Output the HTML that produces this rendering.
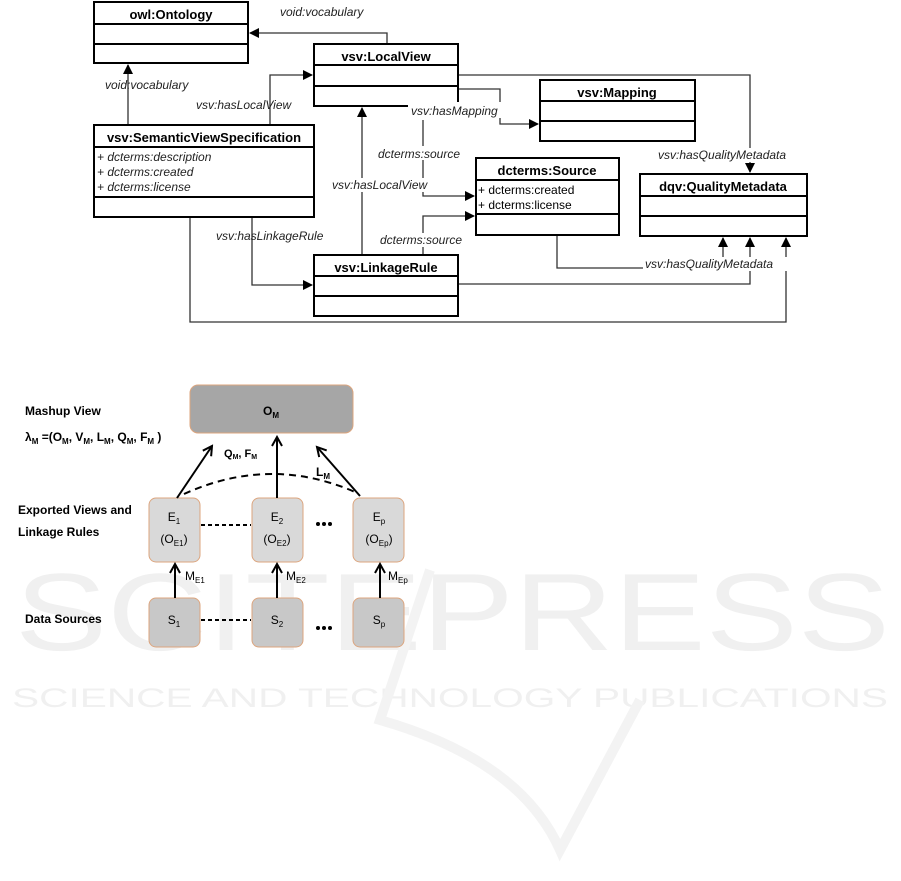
<!DOCTYPE html>
<html><head><meta charset="utf-8"><style>
html,body{margin:0;padding:0;background:#fff;}
svg{display:block;}
.b{font-family:"Liberation Sans",sans-serif;font-weight:bold;font-size:13px;}
.i{font-family:"Liberation Sans",sans-serif;font-style:italic;font-size:12px;fill:#222;}
.a{font-family:"Liberation Sans",sans-serif;font-size:12px;}
.c{font-family:"Liberation Sans",sans-serif;font-size:12px;}
</style></head><body>
<svg width="901" height="881" viewBox="0 0 901 881" xmlns="http://www.w3.org/2000/svg">
<defs>
<marker id="ar" markerWidth="10" markerHeight="10" refX="9" refY="5" orient="auto" markerUnits="userSpaceOnUse"><path d="M0,0 L10,5 L0,10 z" fill="#000"/></marker>
<marker id="ar2" markerWidth="12" markerHeight="12" refX="10" refY="6" orient="auto" markerUnits="userSpaceOnUse"><path d="M1,1 L10,6 L1,11" fill="none" stroke="#000" stroke-width="2"/></marker>
</defs>
<!-- watermark -->
<g fill="#f0f0f0" font-family="Liberation Sans,sans-serif">
<text x="15" y="650" font-size="110" textLength="875" lengthAdjust="spacingAndGlyphs">SCITEPRESS</text>
<text x="12" y="707" font-size="27" textLength="876" lengthAdjust="spacingAndGlyphs">SCIENCE AND TECHNOLOGY PUBLICATIONS</text>
</g>
<path d="M430,570 L380,720 Q520,760 560,850 L640,700" fill="none" stroke="#f3f3f3" stroke-width="10"/>

<!-- connectors top -->
<g stroke="#333" stroke-width="1.3" fill="none">
<path d="M387,44 V33 H250" marker-end="url(#ar)"/>
<path d="M128,125 V65" marker-end="url(#ar)"/>
<path d="M270,125 V75 H312" marker-end="url(#ar)"/>
<path d="M458,75 H750 V172" marker-end="url(#ar)"/>
<path d="M458,89 H500 V124 H538" marker-end="url(#ar)"/>
<path d="M423,120 V196 H474" marker-end="url(#ar)"/>
<path d="M423,255 V216 H474" marker-end="url(#ar)"/>
<path d="M362,255 V108" marker-end="url(#ar)"/>
<path d="M252,217 V285 H312" marker-end="url(#ar)"/>
<path d="M190,217 V322 H786 V238" marker-end="url(#ar)"/>
<path d="M557,235 V268 H723 V238" marker-end="url(#ar)"/>
<path d="M458,284 H750 V238" marker-end="url(#ar)"/>
</g>
<!-- boxes -->
<g fill="#fff" stroke="#000" stroke-width="2">
<rect x="94" y="2" width="154" height="61"/><line x1="94" y1="24" x2="248" y2="24"/><line x1="94" y1="44" x2="248" y2="44"/>
<rect x="314" y="44" width="144" height="62"/><line x1="314" y1="65" x2="458" y2="65"/><line x1="314" y1="86" x2="458" y2="86"/>
<rect x="94" y="125" width="220" height="92"/><line x1="94" y1="147" x2="314" y2="147"/><line x1="94" y1="197" x2="314" y2="197"/>
<rect x="314" y="255" width="144" height="61"/><line x1="314" y1="276" x2="458" y2="276"/><line x1="314" y1="296" x2="458" y2="296"/>
<rect x="540" y="80" width="155" height="61"/><line x1="540" y1="101" x2="695" y2="101"/><line x1="540" y1="121" x2="695" y2="121"/>
<rect x="476" y="158" width="143" height="77"/><line x1="476" y1="180" x2="619" y2="180"/><line x1="476" y1="214" x2="619" y2="214"/>
<rect x="640" y="174" width="167" height="62"/><line x1="640" y1="196" x2="807" y2="196"/><line x1="640" y1="216" x2="807" y2="216"/>
</g>
<g class="b" text-anchor="middle">
<text x="171" y="19">owl:Ontology</text>
<text x="386" y="61">vsv:LocalView</text>
<text x="204" y="142">vsv:SemanticViewSpecification</text>
<text x="386" y="272">vsv:LinkageRule</text>
<text x="617" y="97">vsv:Mapping</text>
<text x="547" y="175">dcterms:Source</text>
<text x="723" y="191">dqv:QualityMetadata</text>
</g>
<g class="i">
<text x="97" y="161">+ dcterms:description</text>
<text x="97" y="176">+ dcterms:created</text>
<text x="97" y="191">+ dcterms:license</text>
</g>
<g class="a">
<text x="478" y="194">+ dcterms:created</text>
<text x="478" y="209">+ dcterms:license</text>
</g>
<g class="i">
<rect x="408" y="102" width="98" height="16" fill="#fff"/>
<text x="280" y="16">void:vocabulary</text>
<text x="105" y="89">void:vocabulary</text>
<text x="196" y="109">vsv:hasLocalView</text>
<text x="411" y="115">vsv:hasMapping</text>
<rect x="377" y="146" width="90" height="14" fill="#fff"/>
<text x="378" y="158">dcterms:source</text>
<rect x="330" y="178" width="94" height="14" fill="#fff"/>
<text x="332" y="189">vsv:hasLocalView</text>
<rect x="377" y="233" width="90" height="14" fill="#fff"/>
<text x="380" y="244">dcterms:source</text>
<text x="216" y="240">vsv:hasLinkageRule</text>
<rect x="655" y="148" width="152" height="14" fill="#fff"/>
<text x="658" y="159">vsv:hasQualityMetadata</text>
<rect x="643" y="257" width="150" height="14" fill="#fff"/>
<text x="645" y="268">vsv:hasQualityMetadata</text>
</g>

<!-- bottom diagram -->
<g stroke="#dca57e" stroke-width="1">
<rect x="190" y="385" width="163" height="48" rx="8" fill="#a6a6a6"/>
<rect x="149" y="498" width="51" height="64" rx="7" fill="#d9d9d9"/>
<rect x="252" y="498" width="51" height="64" rx="7" fill="#d9d9d9"/>
<rect x="353" y="498" width="51" height="64" rx="7" fill="#d9d9d9"/>
<rect x="149" y="598" width="51" height="49" rx="7" fill="#c8c8c8"/>
<rect x="252" y="598" width="51" height="49" rx="7" fill="#c8c8c8"/>
<rect x="353" y="598" width="51" height="49" rx="7" fill="#c8c8c8"/>
</g>
<g stroke="#000" stroke-width="2" fill="none">
<path d="M175,598 V564" marker-end="url(#ar2)"/>
<path d="M277,598 V564" marker-end="url(#ar2)"/>
<path d="M380,598 V564" marker-end="url(#ar2)"/>
<path d="M177,498 L212,446" marker-end="url(#ar2)"/>
<path d="M277,498 V437" marker-end="url(#ar2)"/>
<path d="M360,496 L317,447" marker-end="url(#ar2)"/>
<path d="M184,494 Q270,455 355,492" stroke-dasharray="7,5"/>
<path d="M201,525 H251" stroke-dasharray="4,3"/>
<path d="M201,620 H251" stroke-dasharray="4,3"/>
</g>
<g fill="#000">
<circle cx="318" cy="524" r="2"/><circle cx="324" cy="524" r="2"/><circle cx="330" cy="524" r="2"/>
<circle cx="318" cy="628" r="2"/><circle cx="324" cy="628" r="2"/><circle cx="330" cy="628" r="2"/>
</g>
<g class="c" font-weight="bold">
<text x="25" y="415">Mashup View</text>
<text x="25" y="441">λ<tspan font-size="8" dy="3">M</tspan><tspan dy="-3"> =(O</tspan><tspan font-size="8" dy="3">M</tspan><tspan dy="-3">, V</tspan><tspan font-size="8" dy="3">M</tspan><tspan dy="-3">, L</tspan><tspan font-size="8" dy="3">M</tspan><tspan dy="-3">, Q</tspan><tspan font-size="8" dy="3">M</tspan><tspan dy="-3">, F</tspan><tspan font-size="8" dy="3">M</tspan><tspan dy="-3"> )</tspan></text>
<text x="18" y="514">Exported Views and</text>
<text x="18" y="536">Linkage Rules</text>
<text x="25" y="623">Data Sources</text>
</g>
<g class="c" font-weight="normal" text-anchor="middle" font-size="13">
<text x="271" y="415" font-weight="bold">O<tspan font-size="8" dy="3">M</tspan></text>
<text x="174" y="521">E<tspan font-size="8" dy="3">1</tspan></text>
<text x="174" y="543">(O<tspan font-size="8" dy="3">E1</tspan><tspan dy="-3">)</tspan></text>
<text x="277" y="521">E<tspan font-size="8" dy="3">2</tspan></text>
<text x="277" y="543">(O<tspan font-size="8" dy="3">E2</tspan><tspan dy="-3">)</tspan></text>
<text x="379" y="521">E<tspan font-size="8" dy="3">p</tspan></text>
<text x="379" y="543">(O<tspan font-size="8" dy="3">Ep</tspan><tspan dy="-3">)</tspan></text>
<text x="174" y="624">S<tspan font-size="8" dy="3">1</tspan></text>
<text x="277" y="624">S<tspan font-size="8" dy="3">2</tspan></text>
<text x="379" y="624">S<tspan font-size="8" dy="3">p</tspan></text>
</g>
<g class="c" font-size="13">
<text x="185" y="580">M<tspan font-size="8" dy="3">E1</tspan></text>
<text x="286" y="580">M<tspan font-size="8" dy="3">E2</tspan></text>
<text x="388" y="580">M<tspan font-size="8" dy="3">Ep</tspan></text>
<text x="224" y="457" font-size="11" font-weight="bold">Q<tspan font-size="7" dy="2">M</tspan><tspan dy="-2">, F</tspan><tspan font-size="7" dy="2">M</tspan></text>
<text x="316" y="476" font-weight="bold">L<tspan font-size="8" dy="3">M</tspan></text>
</g>
</svg>
</body></html>
